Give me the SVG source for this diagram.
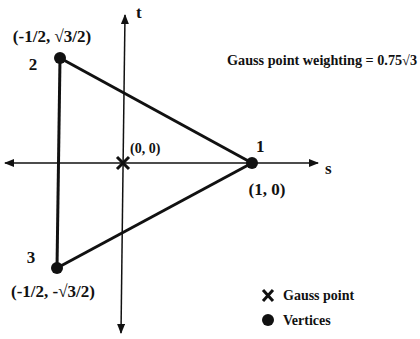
<svg xmlns="http://www.w3.org/2000/svg" width="420" height="339" viewBox="0 0 420 339">
<defs>
<style>
text{font-family:"Liberation Serif","Times New Roman",serif;font-weight:bold;fill:#111}
.lbl{font-size:17px}
.mid{font-size:14px}
.axis{stroke:#111;stroke-width:1.5;fill:none}
.edge{stroke:#111;stroke-width:3;fill:none}
.vtx{fill:#111}
.cross{stroke:#111;stroke-width:3;fill:none}
</style>
<marker id="arr" markerWidth="10" markerHeight="8" refX="9" refY="4" orient="auto" markerUnits="userSpaceOnUse">
<path d="M0,0 L10,4 L0,8 Z" fill="#111"/>
</marker>
</defs>
<rect width="420" height="339" fill="#fff"/>
<g id="connectors">
<line class="axis" x1="252" y1="163" x2="318" y2="163" marker-end="url(#arr)"/>
<line class="axis" x1="252" y1="163" x2="5" y2="163" marker-end="url(#arr)"/>
<line class="axis" x1="123" y1="170" x2="125" y2="15" marker-end="url(#arr)"/>
<line class="axis" x1="123" y1="170" x2="121" y2="333" marker-end="url(#arr)"/>
<line class="edge" x1="60" y1="58" x2="252" y2="163"/>
<line class="edge" x1="252" y1="163" x2="57" y2="268"/>
<line class="edge" x1="60" y1="58" x2="57" y2="268"/>
</g>
<g id="axis-t"><text class="lbl" x="136" y="18">t</text></g>
<g id="axis-s"><text class="lbl" x="325" y="174">s</text></g>
<g id="vertex2">
<circle class="vtx" cx="60" cy="58" r="6"/>
<text class="lbl" x="52" y="42" text-anchor="middle">(-1/2, √3/2)</text>
<text class="lbl" x="33" y="70" text-anchor="middle">2</text>
</g>
<g id="vertex1">
<circle class="vtx" cx="252" cy="163" r="6"/>
<text class="lbl" x="256" y="152">1</text>
<text class="lbl" x="267" y="195" text-anchor="middle">(1, 0)</text>
</g>
<g id="vertex3">
<circle class="vtx" cx="57" cy="268" r="6"/>
<text class="lbl" x="31" y="263" text-anchor="middle">3</text>
<text class="lbl" x="53" y="297" text-anchor="middle">(-1/2, -√3/2)</text>
</g>
<g id="gauss-point">
<path class="cross" d="M117,157 L129,169 M129,157 L117,169"/>
<text class="mid" x="130" y="153">(0, 0)</text>
</g>
<g id="weighting"><text class="mid" x="227" y="65" textLength="190" lengthAdjust="spacingAndGlyphs">Gauss point weighting = 0.75√3</text></g>
<g id="legend">
<path class="cross" d="M263,290 L273,301 M273,290 L263,301"/>
<text class="mid" x="283" y="300">Gauss point</text>
<circle class="vtx" cx="268" cy="320" r="6"/>
<text class="mid" x="283" y="325">Vertices</text>
</g>
</svg>
